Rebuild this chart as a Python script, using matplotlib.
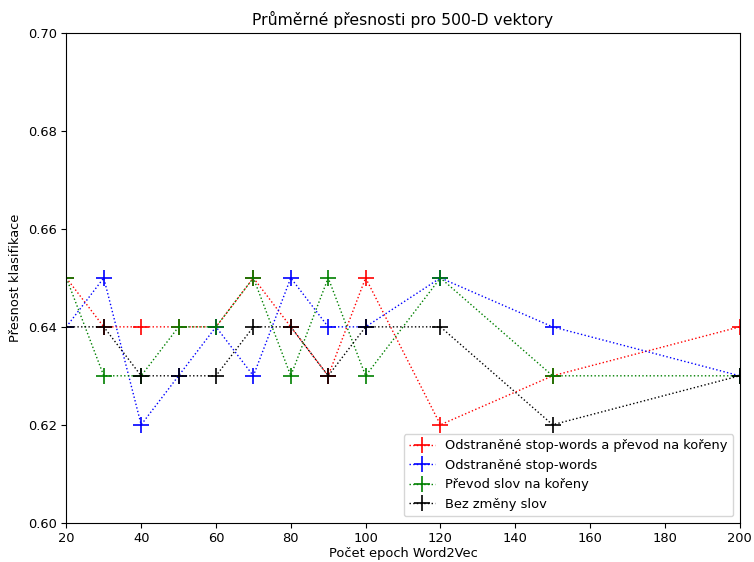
import matplotlib
matplotlib.use("Agg")
import matplotlib.pyplot as plt

epochs = [20, 30, 40, 50, 60, 70, 80, 90, 100, 120, 150, 200]
stop_stem = [0.65, 0.64, 0.64, 0.64, 0.64, 0.65, 0.64, 0.63, 0.65, 0.62, 0.63, 0.64]
stop_only = [0.64, 0.65, 0.62, 0.63, 0.64, 0.63, 0.65, 0.64, 0.64, 0.65, 0.64, 0.63]
stem_only = [0.65, 0.63, 0.63, 0.64, 0.64, 0.65, 0.63, 0.65, 0.63, 0.65, 0.63, 0.63]
no_change = [0.64, 0.64, 0.63, 0.63, 0.63, 0.64, 0.64, 0.63, 0.64, 0.64, 0.62, 0.63]

labels = ["Odstraněné stop-words a převod na kořeny", "Odstraněné stop-words",
          "Převod slov na kořeny", "Bez změny slov"]
colors = ["red", "blue", "green", "black"]

plt.rcParams["font.size"] = 9.4
fig = plt.figure(figsize=(7.54, 5.62), dpi=100)
ax = fig.add_axes([0.088, 0.070, 0.893, 0.871])
for ys, lab, c in zip([stop_stem, stop_only, stem_only, no_change], labels, colors):
    ax.plot(epochs, ys, linestyle=":", color=c, marker="+", markersize=11,
            markeredgewidth=1.2, linewidth=1.0, label=lab)

ax.set_xlim(20, 200)
ax.set_ylim(0.60, 0.70)
ax.set_yticks([0.60, 0.62, 0.64, 0.66, 0.68, 0.70])
ax.set_xticks([20, 40, 60, 80, 100, 120, 140, 160, 180, 200])
ax.set_title("Průměrné přesnosti pro 500-D vektory")
ax.set_xlabel("Počet epoch Word2Vec", labelpad=1.5)
ax.set_ylabel("Přesnost klasifikace")
ax.legend(loc="lower right")
fig.savefig("out.png", dpi=100)
